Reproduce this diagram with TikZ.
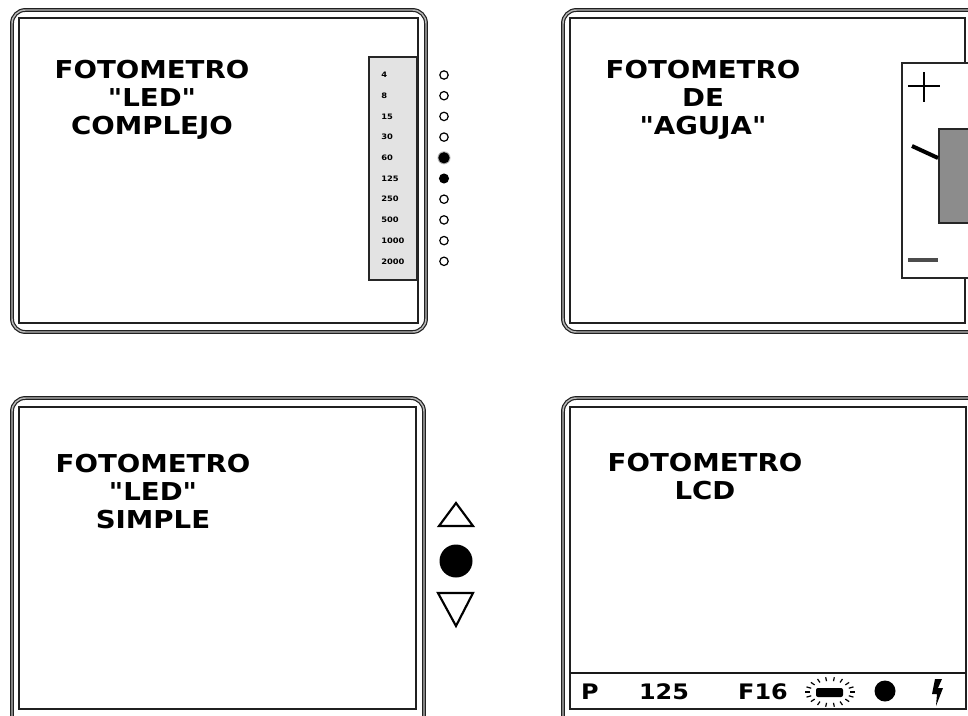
\documentclass[tikz,border=0pt]{standalone}
\usepackage{fontspec}
\newfontfamily\ttlfont[FakeStretch=1.12]{DejaVu Sans}
\usetikzlibrary{shapes.geometric}
\tikzset{
  outerframe/.style={rounded corners=10, draw=gray!25!black, line width=0.9pt, double=gray!55, double distance=1.1pt},
  innerframe/.style={draw=gray!25!black, line width=1.8pt},
  ttl/.style={font=\ttlfont\bfseries\fontsize{18.5}{21}\selectfont, align=center, inner sep=0pt},
  bartxt/.style={font=\ttlfont\bfseries\fontsize{16}{18}\selectfont, inner sep=0pt},
  scaletxt/.style={font=\ttlfont\bfseries\fontsize{5.6}{6}\selectfont, anchor=west, inner sep=0pt},
  ledoff/.style={draw=black, line width=0.9pt, fill=white},
  ledon/.style={draw=black, line width=0.9pt, fill=black},
}
\begin{document}
\begin{tikzpicture}[x=0.75pt, y=-0.75pt]
\useasboundingbox (0,0) rectangle (968,715);
\clip (0,0) rectangle (968,715);
\fill[white] (0,0) rectangle (968,715);

% ---------- Panel 1: LED complejo ----------
\draw[outerframe] (12,10) rectangle (426,332);
\draw[innerframe] (19,18) rectangle (418,323);
\node[ttl] (t1) at (152,100) {FOTOMETRO\\"LED"\\COMPLEJO};
\draw[draw=gray!30!black, line width=1.2pt, fill=gray!22] (369,57) rectangle (417,280);
\foreach \v [count=\i from 0] in {4,8,15,30,60,125,250,500,1000,2000}{
  \node[scaletxt] (s\i) at (381,{75+20.7*\i}) {\v};
}
\foreach \i in {0,1,2,3,6,7,8,9}{
  \draw[ledoff] (444,{75+20.7*\i}) circle (4.2);
}
\fill[gray!60] (444,{75+20.7*4}) circle (6.5);
\draw[ledon] (444,{75+20.7*4}) circle (5);
\draw[ledon] (444,{75+20.7*5}) circle (4.4);

% ---------- Panel 2: aguja ----------
\draw[outerframe] (563,10) rectangle (990,332);
\draw[innerframe] (570,18) rectangle (965,323);
\node[ttl] (t2) at (703,100) {FOTOMETRO\\DE\\"AGUJA"};
\draw[draw=gray!30!black, line width=1.2pt, fill=white] (902,63) rectangle (990,278);
\draw[line width=1.3pt, black] (908,86) -- (940,86) (924,72) -- (924,102);
\draw[line width=2.5pt, gray!60!black] (908,260) -- (938,260);
\draw[draw=gray!30!black, line width=1pt, fill=black!45] (939,129) rectangle (990,223);
\draw[line width=3pt, black] (912,146) -- (938,158);

% ---------- Panel 3: LED simple ----------
\draw[outerframe] (12,398) rectangle (424,730);
\draw[innerframe] (19,407) rectangle (416,709);
\node[ttl] (t3) at (153,492) {FOTOMETRO\\"LED"\\SIMPLE};
\draw[line width=1.6pt, black, fill=white] (456,503) -- (473,526) -- (439,526) -- cycle;
\fill[black] (456,561) circle (16.5);
\draw[line width=1.6pt, black, fill=white] (438,593) -- (473,593) -- (456,626) -- cycle;

% ---------- Panel 4: LCD ----------
\draw[outerframe] (563,398) rectangle (990,730);
\draw[innerframe] (570,407) rectangle (966,709);
\node[ttl] (t4) at (705,477) {FOTOMETRO\\LCD};
\draw[draw=gray!20!black, line width=1.8pt] (570,673) -- (966,673);
\node[bartxt] (bp) at (590,692) {P};
\node[bartxt] (b125) at (664,692) {125};
\node[bartxt] (bf) at (763,692) {F16};
\foreach \a in {0,20,...,340}{
  \draw[black, line width=0.9pt] ({830+20*cos(\a)},{692+11*sin(\a)}) -- ({830+25*cos(\a)},{692+15*sin(\a)});
}
\fill[black, rounded corners=1.5] (816,688) rectangle (843,697);
\fill[black] (885,691) circle (10.5);
\fill[black] (935,679) -- (942,679) -- (938,688) -- (943,688) -- (936,706) -- (937,694) -- (932,694) -- cycle;
\end{tikzpicture}
\end{document}
